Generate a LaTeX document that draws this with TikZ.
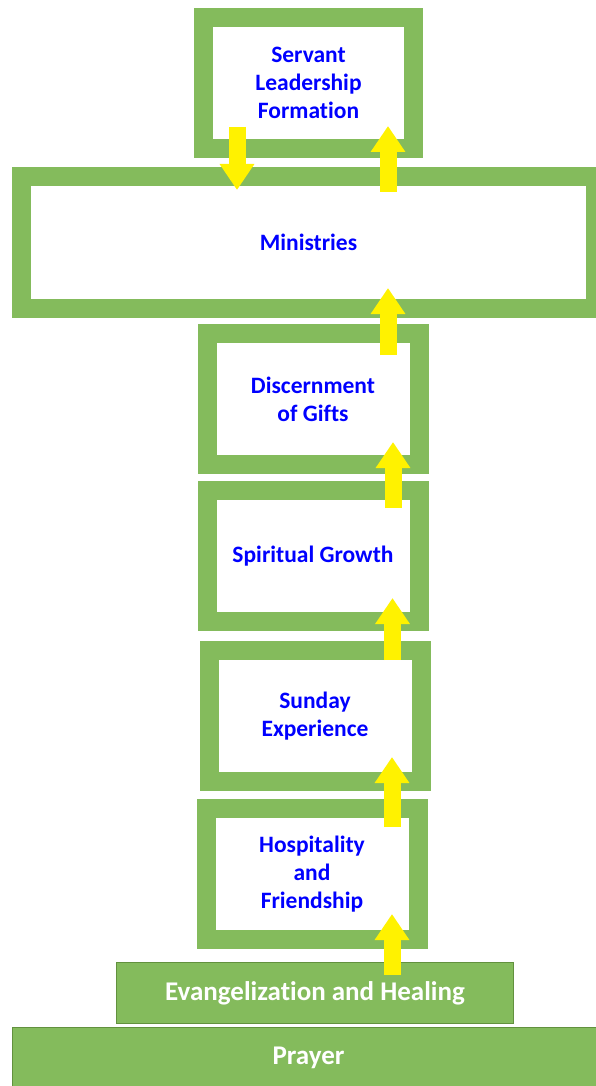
\documentclass[tikz,border=0pt]{standalone}
\usepackage{fontspec}
\setmainfont{Carlito}[Ligatures=NoCommon]
\usetikzlibrary{positioning,arrows.meta}
\definecolor{leafgreen}{RGB}{132,187,92}
\definecolor{darkleaf}{RGB}{98,145,62}
\definecolor{labelblue}{RGB}{0,0,255}
\begin{document}
\begin{tikzpicture}[x=1pt, y=-1pt, node distance=8pt,
	tier/.style={rectangle, draw=leafgreen, line width=19pt, fill=white, minimum width=212pt, minimum height=131pt, inner sep=0pt, align=center, text=labelblue, font=\bfseries\fontsize{23.5}{28}\selectfont},
	wide/.style={tier, minimum width=574pt, minimum height=132pt},
	base/.style={rectangle, draw=darkleaf, line width=1pt, fill=leafgreen, text=white, minimum height=61pt, inner sep=0pt, font=\bfseries\fontsize{27}{32}\selectfont},
	lift/.style={draw=yellow, line width=17pt, -{Triangle[width=33pt,length=26pt]}}]
		\useasboundingbox (0,0) rectangle (596,1086);
		\node[tier, minimum width=210pt] (serv) at (308.5,83) {Servant\\Leadership\\Formation};
		\node[wide, below=9pt of serv] (min) {Ministries};
		\node[tier, below=6pt of min, xshift=4.5pt] (disc) {Discernment\\of Gifts};
		\node[tier, below=7pt of disc] (spir) {Spiritual Growth};
		\node[tier, below=10pt of spir, xshift=2pt] (sun) {Sunday\\Experience};
		\node[tier, below=8pt of sun, xshift=-3pt] (hosp) {Hospitality\\and\\Friendship};
		\node[base, minimum width=397pt, below=13pt of hosp, xshift=3pt] (evan) {Evangelization and Healing};
		\node[base, minimum width=592pt, below=3pt of evan, xshift=-6.5pt] (pray) {Prayer};

		\draw[lift] ([shift={(-71.5,-31)}]serv.south) -- ([shift={(-71.5,23)}]min.north);
		\draw[lift] ([shift={(79.5,25)}]min.north) -- ([shift={(79.5,-32)}]serv.south);
		\draw[lift] ([shift={(75,31)}]disc.north) -- ([shift={(79.5,-30)}]min.south);
		\draw[lift] ([shift={(80,27)}]spir.north) -- ([shift={(80,-32)}]disc.south);
		\draw[lift] ([shift={(77.5,19)}]sun.north) -- ([shift={(79.5,-33)}]spir.south);
		\draw[lift] ([shift={(80,28)}]hosp.north) -- ([shift={(77,-34)}]sun.south);
		\draw[lift] ([shift={(77,13)}]evan.north) -- ([shift={(80,-35)}]hosp.south);
	\end{tikzpicture}
\end{document}
